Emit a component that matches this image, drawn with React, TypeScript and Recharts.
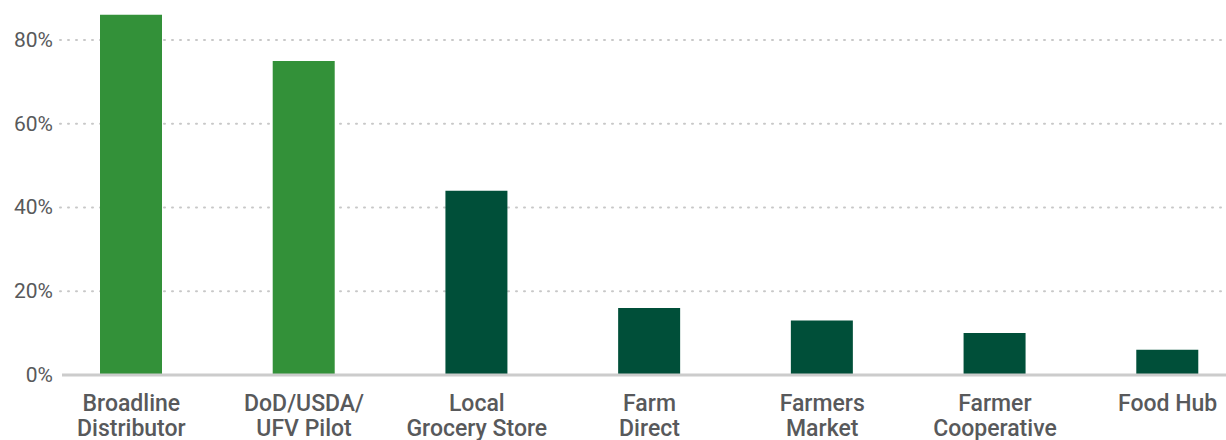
import { Bar, BarChart, CartesianGrid, Cell, ReferenceLine, XAxis, YAxis } from "recharts"

const categories = [
  "Broadline\nDistributor",
  "DoD/USDA/\nUFV Pilot",
  "Local\nGrocery Store",
  "Farm\nDirect",
  "Farmers\nMarket",
  "Farmer\nCooperative",
  "Food Hub",
]
const shares = [86, 75, 44, 16, 13, 10, 6]
const yTicks = [0, 20, 40, 60, 80]

const LIGHT = "#339139"
const DARK = "#004f39"

const data = categories.map((name, i) => ({ name, value: shares[i] }))

const XTick = ({ x, y, payload }: any) => {
  const lines = String(payload.value).split("\n")
  return (
    <text
      x={x}
      y={y}
      textAnchor="middle"
      fill="#58595b"
      fontSize={23}
      fontWeight={500}
      fontFamily="Roboto, sans-serif"
    >
      {lines.map((l, i) => (
        <tspan key={i} x={x} dy={i === 0 ? 28 : 25}>
          {l}
        </tspan>
      ))}
    </text>
  )
}

const YTick = ({ x, y, payload }: any) => (
  <text
    x={x + 8}
    y={y}
    dy={7}
    textAnchor="end"
    fill="#58595b"
    fontSize={21}
    fontFamily="Roboto, sans-serif"
  >
    {payload.value}%
  </text>
)

const GridLine = (props: any) => {
  if (props.y1 > 370 || props.y1 < 5) return <g />
  return (
    <line
      x1={props.x1 + 15}
      x2={props.x2}
      y1={props.y1}
      y2={props.y2}
      stroke="#c8c8c8"
      strokeWidth={2}
      strokeDasharray="1 7"
      strokeLinecap="round"
    />
  )
}

const BaseLine = (props: any) => (
  <line
    x1={props.x1 + 17}
    x2={props.x2}
    y1={props.y1}
    y2={props.y2}
    stroke="#cccccc"
    strokeWidth={3}
  />
)

export default function App() {
  return (
    <div
      style={{
        position: "absolute",
        left: 0,
        top: 0,
        width: 1226,
        height: 440,
        overflow: "hidden",
        background: "#fff",
      }}
    >
      <BarChart
        width={1254}
        height={440}
        data={data}
        margin={{ top: 0, right: 0, bottom: 0, left: 0 }}
      >
        <CartesianGrid vertical={false} horizontal={GridLine} />
        <XAxis
          dataKey="name"
          interval={0}
          height={65}
          axisLine={false}
          tickLine={false}
          tick={<XTick />}
        />
        <YAxis
          width={45}
          domain={[0, 89.55]}
          ticks={yTicks}
          axisLine={false}
          tickLine={false}
          tickSize={0}
          tickMargin={0}
          tick={<YTick />}
        />
        <ReferenceLine y={0} shape={<BaseLine />} />
        <Bar dataKey="value" barSize={62} isAnimationActive={false}>
          {data.map((d, i) => (
            <Cell key={d.name} fill={i < 2 ? LIGHT : DARK} />
          ))}
        </Bar>
      </BarChart>
    </div>
  )
}
